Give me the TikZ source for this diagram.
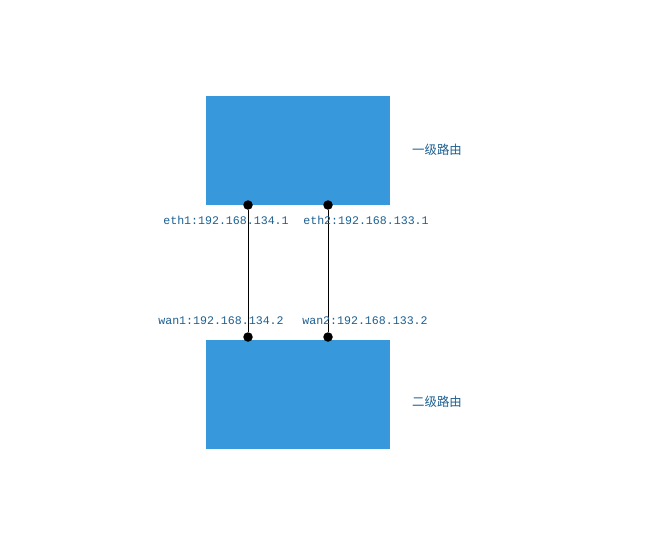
\documentclass[tikz,border=0pt]{standalone}
\usepackage{fontspec}
\newfontfamily\cjk{Noto Sans CJK SC}
\newfontfamily\monof{Liberation Mono}
\definecolor{boxblue}{HTML}{3798DB}
\definecolor{txtblue}{HTML}{1B5F91}
\begin{document}
\begin{tikzpicture}[x=1pt,y=-1pt,
  router/.style={fill=boxblue,draw=none,minimum width=184pt,minimum height=109pt,inner sep=0pt},
  port/.style={circle,fill=black,inner sep=0pt,minimum size=9.5pt},
  iplabel/.style={text=txtblue,font=\monof\fontsize{11.6}{13}\selectfont,inner sep=0pt},
  rlabel/.style={text=txtblue,font=\cjk\fontsize{12.4}{14}\selectfont,inner sep=0pt,anchor=west},
  link/.style={draw=black,line width=0.9pt}]
\useasboundingbox (0,0) rectangle (669,547);
\node[router] (r1) at (298,150.5) {};
\node[router] (r2) at (298,394.5) {};
\node[port] (p1) at (248,205) {};
\node[port] (p2) at (328,205) {};
\node[port] (q1) at (248,337) {};
\node[port] (q2) at (328,337) {};
\draw[link] (p1) -- (q1);
\draw[link] (p2) -- (q2);
\node[iplabel] (l1) at (226,220) {eth1:192.168.134.1};
\node[iplabel] (l2) at (366,220) {eth2:192.168.133.1};
\node[iplabel] (l3) at (221,321) {wan1:192.168.134.2};
\node[iplabel] (l4) at (365,321) {wan2:192.168.133.2};
\node[rlabel] (n1) at (412,150) {一级路由};
\node[rlabel] (n2) at (412,402) {二级路由};
\end{tikzpicture}
\end{document}
